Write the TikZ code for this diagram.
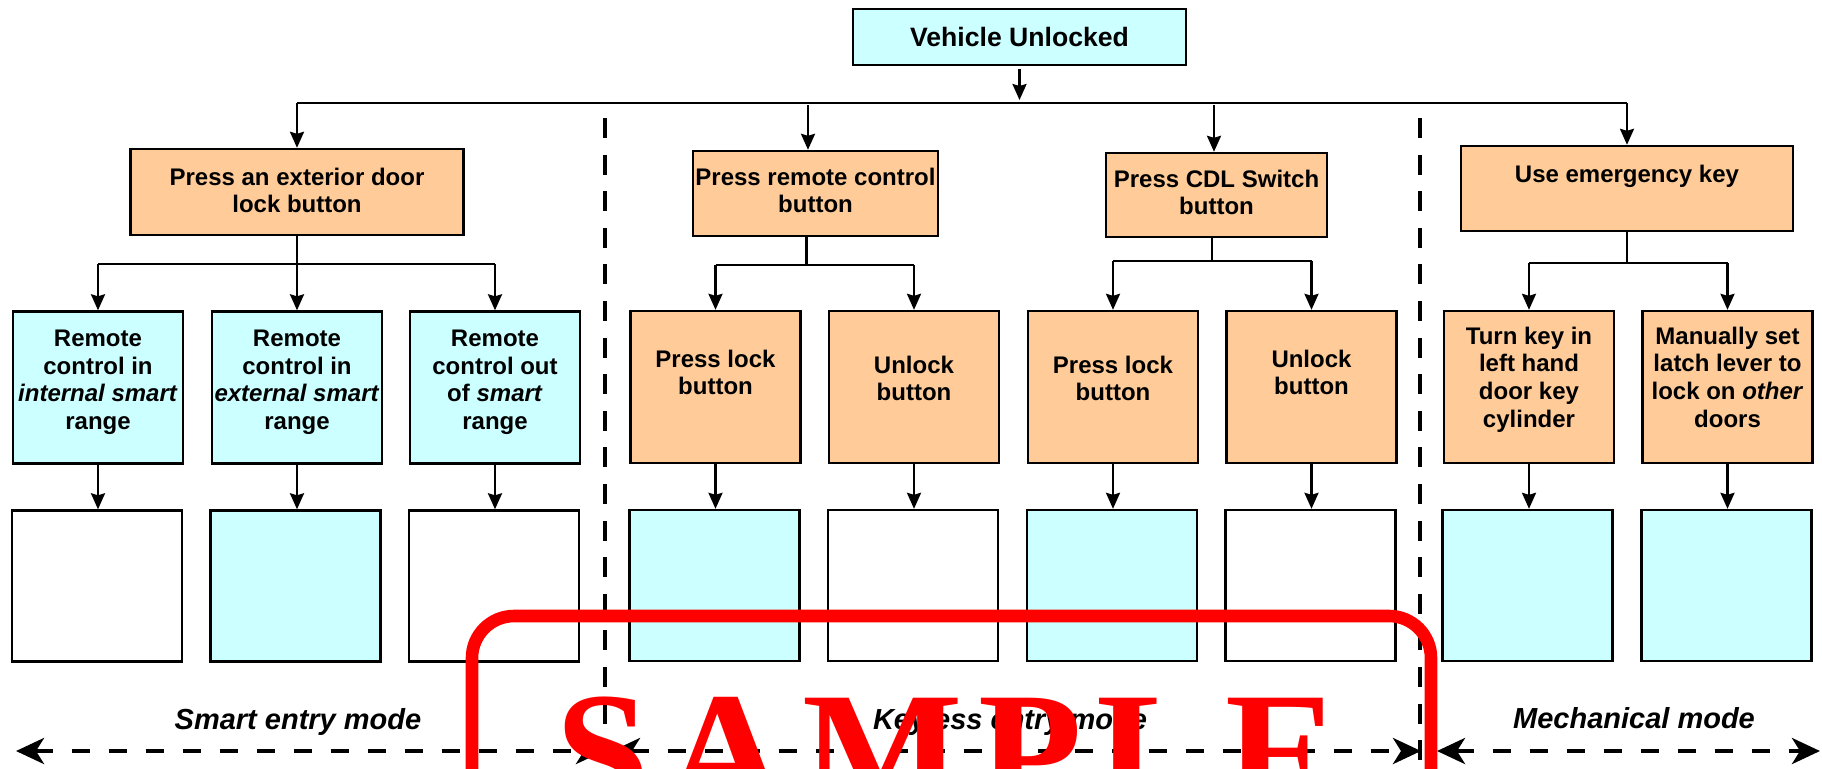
\documentclass[tikz,border=0pt]{standalone}
\usepackage{fontspec}
\setmainfont{Liberation Sans}
\newfontfamily\wmfont[LetterSpace=8.8]{Liberation Serif}
\usetikzlibrary{arrows.meta,calc}
\definecolor{cyfill}{HTML}{CCFFFF}
\definecolor{orfill}{HTML}{FFCC99}
\begin{document}
\begin{tikzpicture}[x=0.5pt,y=-0.5pt,
  box/.style={draw=black, line width=1.2pt, inner sep=0pt},
  smallbox/.style={box, minimum width=85pt, minimum height=76pt},
  resbox/.style={box, minimum width=85pt, minimum height=75.5pt},
  tx/.style={font=\fontsize{12}{13.85}\selectfont\bfseries, align=center, inner sep=0pt, anchor=north},
  conn/.style={draw=black, line width=1.2pt},
  arr/.style={conn, -{Stealth[length=8pt,width=7pt,inset=1pt]}},
  divider/.style={draw=black, line width=2.2pt, dash pattern=on 10pt off 8.3pt},
  modearr/.style={draw=black, line width=2.2pt, dash pattern=on 9pt off 9.5pt,
    {Stealth[length=14pt,width=13pt,inset=4pt]}-{Stealth[length=14pt,width=13pt,inset=4pt]}},
  modelbl/.style={font=\fontsize{14.5}{16}\selectfont\bfseries\itshape, anchor=base, inner sep=0pt}]
\useasboundingbox (0,0) rectangle (1822,768);
\clip (0,0) rectangle (1822,768);

% top node
\node[box, fill=cyfill, minimum width=166.5pt, minimum height=28pt,
  font=\fontsize{13.3}{15}\selectfont\bfseries] (vu) at (1019.5,37) {Vehicle Unlocked};

% level 1 boxes
\node[box, fill=orfill, minimum width=166.5pt, minimum height=43pt] (pe) at (297,192) {};
\node[box, fill=orfill, minimum width=122.5pt, minimum height=42.5pt] (prc) at (815.5,193.5) {};
\node[box, fill=orfill, minimum width=110.5pt, minimum height=42pt] (cdl) at (1216.5,195) {};
\node[box, fill=orfill, minimum width=166pt, minimum height=42.5pt] (emk) at (1627,188.5) {};
\node[tx] (tpe) at (297,167.4) {Press an exterior door\\lock button};
\node[tx] (tprc) at (815.5,167.4) {Press remote control\\button};
\node[tx] (tcdl) at (1216.5,169.4) {Press CDL Switch\\button};
\node[tx] (temk) at (1627,164.4) {Use emergency key};

% level 2 boxes
\node[smallbox, fill=cyfill] (s1) at (98,387.5) {};
\node[smallbox, fill=cyfill] (s2) at (297,387.5) {};
\node[smallbox, fill=cyfill] (s3) at (495,387.5) {};
\node[smallbox, fill=orfill] (k1) at (715.5,387) {};
\node[smallbox, fill=orfill] (k2) at (914,387) {};
\node[smallbox, fill=orfill] (k3) at (1113,387) {};
\node[smallbox, fill=orfill] (k4) at (1311.5,387) {};
\node[smallbox, fill=orfill] (m1) at (1529,387) {};
\node[smallbox, fill=orfill] (m2) at (1727.5,387) {};
\node[tx] (ts1) at (98,329.4) {Remote\\control in\\\textit{internal smart}\\range};
\node[tx] (ts2) at (297,329.4) {Remote\\control in\\\textit{external smart}\\range};
\node[tx] (ts3) at (495,329.4) {Remote\\control out\\of \textit{smart}\\range};
\node[tx] (tk1) at (715.5,349.4) {Press lock\\button};
\node[tx] (tk2) at (914,355.4) {Unlock\\button};
\node[tx] (tk3) at (1113,355.4) {Press lock\\button};
\node[tx] (tk4) at (1311.5,349.4) {Unlock\\button};
\node[tx] (tm1) at (1529,326.4) {Turn key in\\left hand\\door key\\cylinder};
\node[tx] (tm2) at (1727.5,326.4) {Manually set\\latch lever to\\lock on \textit{other}\\doors};

% level 3 boxes
\node[resbox, fill=white] (r1) at (97,586) {};
\node[resbox, fill=cyfill] (r2) at (295.5,586) {};
\node[resbox, fill=white] (r3) at (494,586) {};
\node[resbox, fill=cyfill] (r4) at (714.5,585.5) {};
\node[resbox, fill=white] (r5) at (913,585.5) {};
\node[resbox, fill=cyfill] (r6) at (1112,585.5) {};
\node[resbox, fill=white] (r7) at (1310.5,585.5) {};
\node[resbox, fill=cyfill] (r8) at (1527.5,585.5) {};
\node[resbox, fill=cyfill] (r9) at (1726.5,585.5) {};

% top connectors
\coordinate (vutip) at (1019.5,100);
\coordinate (busL) at (297,103);
\coordinate (busR) at (1627,103);
\coordinate (b2) at (808,105);
\coordinate (b3) at (1214,105);
\draw[arr] ([yshift=-1.5pt]vu.south) -- (vutip);
\draw[conn] (busL) -- (busR);
\draw[arr] (busL) -- (busL |- pe.north);
\draw[arr] (busR) -- (busR |- emk.north);
\draw[arr] (b2) -- (b2 |- prc.north);
\draw[arr] (b3) -- (b3 |- cdl.north);

% level 1 -> level 2
\coordinate (j1) at (297,264);
\coordinate (j2) at (806.5,265);
\coordinate (j3) at (1212,261);
\coordinate (j4) at (1627,263);
\draw[conn] (j1 |- pe.south) -- (j1);
\draw[conn] (s1.north |- j1) -- (s3.north |- j1);
\draw[arr] (s1.north |- j1) -- (s1.north);
\draw[arr] (s2.north |- j1) -- (s2.north);
\draw[arr] (s3.north |- j1) -- (s3.north);
\draw[conn] (j2 |- prc.south) -- (j2);
\draw[conn] (k1.north |- j2) -- (k2.north |- j2);
\draw[arr] (k1.north |- j2) -- (k1.north);
\draw[arr] (k2.north |- j2) -- (k2.north);
\draw[conn] (j3 |- cdl.south) -- (j3);
\draw[conn] (k3.north |- j3) -- (k4.north |- j3);
\draw[arr] (k3.north |- j3) -- (k3.north);
\draw[arr] (k4.north |- j3) -- (k4.north);
\draw[conn] (j4 |- emk.south) -- (j4);
\draw[conn] (m1.north |- j4) -- (m2.north |- j4);
\draw[arr] (m1.north |- j4) -- (m1.north);
\draw[arr] (m2.north |- j4) -- (m2.north);

% level 2 -> level 3
\foreach \a/\b in {s1/r1,s2/r2,s3/r3,k1/r4,k2/r5,k3/r6,k4/r7,m1/r8,m2/r9}
  \draw[arr] (\a.south) -- (\a.south |- \b.north);

% dividers
\coordinate (d1t) at (605,118);
\coordinate (d1b) at (605,770);
\coordinate (d2t) at (1420,118);
\coordinate (d2b) at (1420,770);
\draw[divider] (d1t) -- (d1b);
\draw[divider] (d2t) -- (d2b);

% mode arrows and labels
\coordinate (h0) at (16,751);
\coordinate (h1) at (604,751);
\coordinate (h2) at (612,751);
\coordinate (h3) at (1421,751);
\coordinate (h4) at (1437,751);
\coordinate (h5) at (1820,751);
\draw[modearr] (h0) -- (h1);
\draw[modearr] (h2) -- (h3);
\draw[modearr] (h4) -- (h5);
\node[modelbl] (lsmart) at (298,729) {Smart entry mode};
\node[modelbl] (lkey) at (1010,729) {Keyless entry mode};
\node[modelbl] (lmech) at (1634,728) {Mechanical mode};

% watermark
\draw[red, line width=6.3pt, rounded corners=21pt] (472,616) rectangle (1431,840);
\node[anchor=base west, inner sep=0pt, text=red,
  font=\wmfont\bfseries\fontsize{85}{85}\selectfont] (wm) at (555,809) {SAMPLE};
\end{tikzpicture}
\end{document}
